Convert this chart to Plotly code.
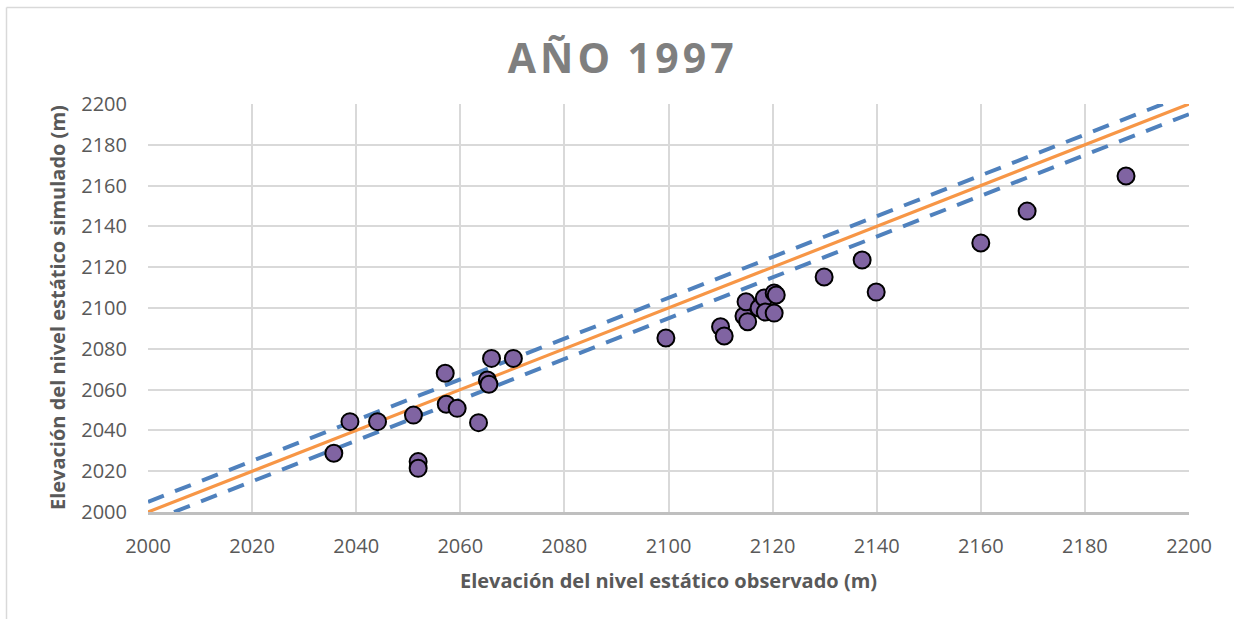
import plotly.graph_objects as go

# Observed vs simulated static level elevations (m), year 1997
observado = [2035.7, 2038.8, 2044.1, 2051.0, 2051.9, 2051.9, 2057.1, 2057.3,
             2059.4, 2063.5, 2065.2, 2065.5, 2066.0, 2070.2, 2099.5, 2110.0,
             2110.7, 2114.5, 2114.9, 2115.2, 2117.4, 2118.4, 2118.6, 2120.3,
             2120.7, 2120.3, 2129.9, 2137.2, 2139.9, 2160.0, 2168.9, 2187.9]
simulado = [2028.8, 2044.3, 2044.3, 2047.5, 2024.7, 2021.4, 2068.0, 2052.8,
            2050.8, 2043.8, 2064.7, 2062.6, 2075.3, 2075.3, 2085.3, 2090.8,
            2086.3, 2096.1, 2103.1, 2093.3, 2100.0, 2104.9, 2098.0, 2107.4,
            2106.4, 2097.5, 2115.2, 2123.5, 2107.8, 2131.9, 2147.5, 2164.7]

# 1:1 reference line and the +/- tolerance band
linea_x = [2000, 2200]
tolerancia = 5

tick_vals = list(range(2000, 2201, 20))
tick_text = [str(v) for v in tick_vals]

fig = go.Figure()

fig.add_trace(go.Scatter(
    x=linea_x, y=linea_x, mode="lines",
    line=dict(color="#F79646", width=3.2), hoverinfo="skip"))

fig.add_trace(go.Scatter(
    x=[linea_x[0], linea_x[1] - tolerancia],
    y=[linea_x[0] + tolerancia, linea_x[1]], mode="lines",
    line=dict(color="#4F81BD", width=4, dash="17px,12px"), hoverinfo="skip"))

fig.add_trace(go.Scatter(
    x=[linea_x[0] + tolerancia, linea_x[1]],
    y=[linea_x[0], linea_x[1] - tolerancia], mode="lines",
    line=dict(color="#4F81BD", width=4, dash="17px,12px"), hoverinfo="skip"))

fig.add_trace(go.Scatter(
    x=observado, y=simulado, mode="markers",
    marker=dict(size=17, color="#8064A2", line=dict(color="#000000", width=2)),
    cliponaxis=False))

axis_common = dict(
    range=[2000, 2200], tickvals=tick_vals, ticktext=tick_text,
    showgrid=True, gridcolor="#D9D9D9", gridwidth=2,
    zeroline=False, ticks="",
    tickfont=dict(family="Open Sans", size=20, color="#595959"),
)

fig.update_xaxes(**axis_common, showline=True, linecolor="#BFBFBF",
                 linewidth=3, mirror=False, ticklabelstandoff=14)
fig.update_yaxes(**axis_common, showline=False, ticklabelstandoff=20)

fig.update_layout(
    width=1234, height=619,
    margin=dict(l=148, r=45, t=104, b=107),
    paper_bgcolor="white", plot_bgcolor="white",
    showlegend=False,
    title=dict(
        text="A\u200aÑ\u200aO\u2009 1\u200a9\u200a9\u200a7",
        font=dict(family="Open Sans", size=41, color="#7F7F7F", weight="bold"),
        x=0.503, xref="container", xanchor="center",
        y=0.905, yref="container", yanchor="middle"),
    annotations=[
        dict(text="<b>Elevación del nivel estático observado (m)</b>",
             xref="paper", yref="paper", x=0.5, y=(512 - 580) / 408,
             xanchor="center", yanchor="middle", showarrow=False,
             font=dict(family="Open Sans", size=20, color="#595959")),
        dict(text="<b>Elevación del nivel estático simulado (m)</b>",
             xref="paper", yref="paper", x=(57 - 148) / 1041, y=0.5,
             xanchor="center", yanchor="middle", showarrow=False, textangle=-90,
             font=dict(family="Open Sans", size=20, color="#595959")),
    ],
    shapes=[
        dict(type="line", xref="paper", yref="paper",
             x0=(6.5 - 148) / 1041, x1=(1234 - 148) / 1041,
             y0=(512 - 7.5) / 408, y1=(512 - 7.5) / 408,
             line=dict(color="#D9D9D9", width=1.5)),
        dict(type="line", xref="paper", yref="paper",
             x0=(6.5 - 148) / 1041, x1=(6.5 - 148) / 1041,
             y0=(512 - 7.5) / 408, y1=(512 - 619) / 408,
             line=dict(color="#D9D9D9", width=1.5)),
    ],
)

fig.write_html("out.html")
